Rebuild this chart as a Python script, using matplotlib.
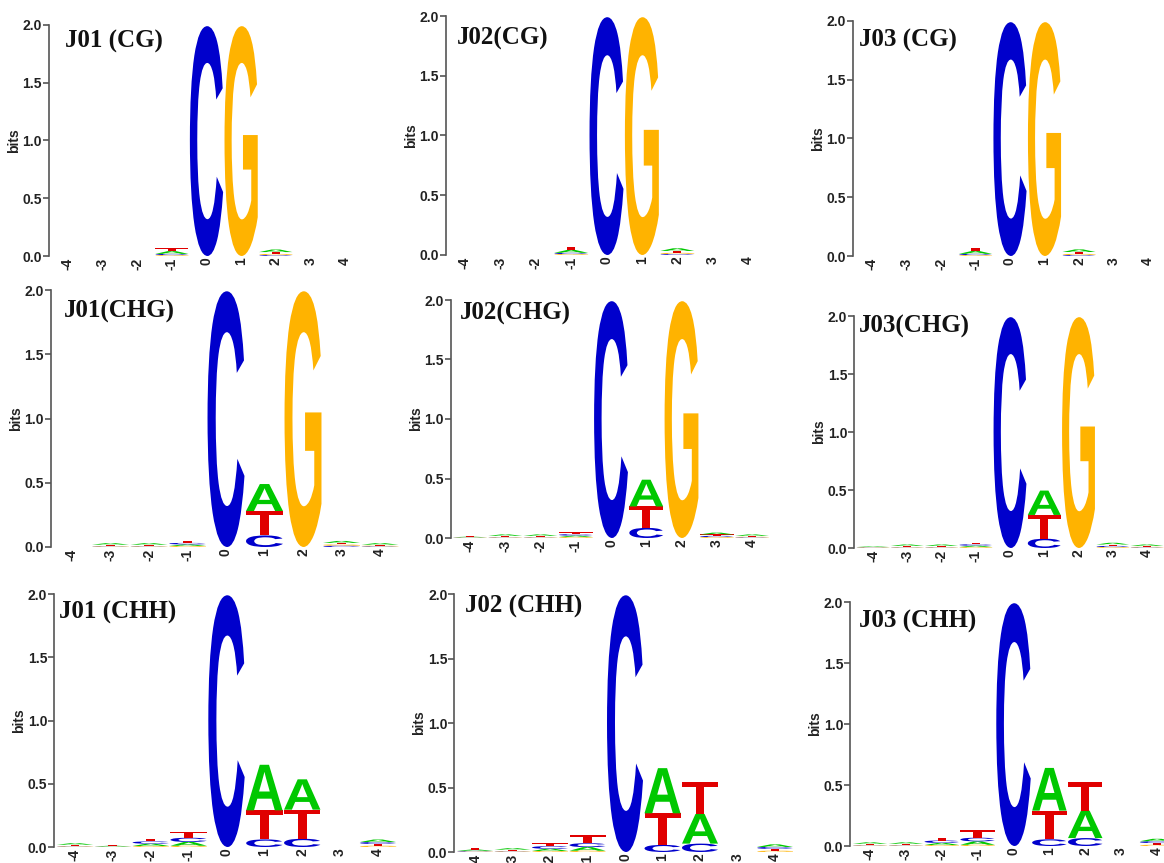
import matplotlib
matplotlib.use("Agg")
import matplotlib.pyplot as plt
from matplotlib.textpath import TextPath
from matplotlib.patches import PathPatch
from matplotlib.font_manager import FontProperties
from matplotlib.transforms import Affine2D

# ---------------- data ----------------
positions = [-4, -3, -2, -1, 0, 1, 2, 3, 4]
letters = ["A", "C", "G", "T"]
yticks = [0.0, 0.5, 1.0, 1.5, 2.0]
ytick_labels = ["0.0", "0.5", "1.0", "1.5", "2.0"]

# rows: A, C, G, T ; columns: positions -4..4 (bits)
J01_CG = [[0, 0, 0, 0.024, 0, 0, 0.022, 0, 0],
          [0, 0, 0, 0.010, 1.99, 0, 0.008, 0, 0],
          [0, 0, 0, 0.008, 0, 1.99, 0.010, 0, 0],
          [0, 0, 0, 0.027, 0, 0, 0.016, 0, 0]]
J02_CG = [[0, 0, 0, 0.024, 0, 0, 0.022, 0, 0],
          [0, 0, 0, 0.010, 1.99, 0, 0.008, 0, 0],
          [0, 0, 0, 0.008, 0, 1.99, 0.010, 0, 0],
          [0, 0, 0, 0.027, 0, 0, 0.016, 0, 0]]
J03_CG = [[0, 0, 0, 0.024, 0, 0, 0.022, 0, 0],
          [0, 0, 0, 0.010, 1.99, 0, 0.008, 0, 0],
          [0, 0, 0, 0.008, 0, 1.99, 0.010, 0, 0],
          [0, 0, 0, 0.027, 0, 0, 0.016, 0, 0]]
J01_CHG = [[0, 0.012, 0.012, 0.012, 0, 0.21, 0, 0.015, 0.012],
           [0, 0.004, 0.004, 0.012, 1.99, 0.09, 0, 0.010, 0.005],
           [0, 0.004, 0.004, 0.008, 0, 0, 1.99, 0.010, 0.005],
           [0, 0.010, 0.010, 0.015, 0, 0.19, 0, 0.012, 0.008]]
J02_CHG = [[0.005, 0.012, 0.012, 0.012, 0, 0.225, 0, 0.015, 0.012],
           [0.003, 0.004, 0.004, 0.012, 1.99, 0.085, 0, 0.010, 0.005],
           [0.003, 0.004, 0.004, 0.008, 0, 0, 1.99, 0.008, 0.005],
           [0.005, 0.010, 0.010, 0.015, 0, 0.18, 0, 0.012, 0.008]]
J03_CHG = [[0.006, 0.012, 0.012, 0.012, 0, 0.21, 0, 0.015, 0.012],
           [0.004, 0.004, 0.004, 0.012, 1.99, 0.08, 0, 0.010, 0.005],
           [0.004, 0.004, 0.004, 0.008, 0, 0, 1.99, 0.008, 0.005],
           [0.006, 0.010, 0.010, 0.015, 0, 0.205, 0, 0.012, 0.008]]
J01_CHH = [[0.012, 0.006, 0.018, 0.030, 0, 0.36, 0.24, 0, 0.020],
           [0.004, 0.002, 0.018, 0.033, 1.99, 0.06, 0.065, 0, 0.015],
           [0.004, 0.002, 0.008, 0.010, 0, 0, 0, 0, 0.010],
           [0.010, 0.006, 0.020, 0.045, 0, 0.23, 0.23, 0, 0.014]]
J02_CHH = [[0.010, 0.012, 0.017, 0.028, 0, 0.35, 0.23, 0, 0.020],
           [0.005, 0.004, 0.020, 0.030, 1.99, 0.055, 0.065, 0, 0.015],
           [0.004, 0.004, 0.008, 0.010, 0, 0, 0, 0, 0.010],
           [0.014, 0.010, 0.021, 0.060, 0, 0.245, 0.25, 0, 0.014]]
J03_CHH = [[0.012, 0.012, 0.017, 0.028, 0, 0.35, 0.225, 0, 0.020],
           [0.004, 0.004, 0.020, 0.030, 1.99, 0.055, 0.065, 0, 0.015],
           [0.004, 0.004, 0.008, 0.010, 0, 0, 0, 0, 0.010],
           [0.010, 0.010, 0.021, 0.060, 0, 0.235, 0.235, 0, 0.014]]

titles = ["J01 (CG)", "J02(CG)", "J03 (CG)",
          "J01(CHG)", "J02(CHG)", "J03(CHG)",
          "J01 (CHH)", "J02 (CHH)", "J03 (CHH)"]
matrices = [J01_CG, J02_CG, J03_CG, J01_CHG, J02_CHG, J03_CHG,
            J01_CHH, J02_CHH, J03_CHH]

colors = {"A": "#00C800", "C": "#0000CC", "G": "#FFB300", "T": "#E00000"}

# ---------------- layout (pixels) ----------------
W, H = 1164, 863
# (x of pos -4, x of pos 4, y of 2.0, y of 0.0)
panel_px = [(68, 345, 25, 256), (465, 748, 16, 255), (872, 1148, 21, 256),
            (72, 380, 290, 547), (470, 752, 300, 538), (873, 1147, 316, 548),
            (75, 378, 594, 847), (475, 775, 594, 852), (870, 1157, 602, 846)]
# title (left x, baseline y)
title_px = [(65, 48), (457, 45), (859, 47),
            (64, 318), (460, 320), (859, 333),
            (59, 619), (465, 613), (859, 628)]

fig = plt.figure(figsize=(W / 100, H / 100), dpi=100)
fig.patch.set_facecolor("white")

glyph_font = FontProperties(family="Liberation Sans", weight="bold")
glyph_cache = {}
for L in letters:
    glyph_cache[L] = TextPath((0, 0), L, size=1, prop=glyph_font)

XMIN, XMAX = -4.55, 4.5
LW = 0.96
TICK_FS = 10


def draw_letter(ax, letter, x, y0, h):
    if h <= 0:
        return
    p = glyph_cache[letter]
    bb = p.get_extents()
    tr = (Affine2D().translate(-bb.x0, -bb.y0)
          .scale(LW / bb.width, h / bb.height)
          .translate(x - LW / 2, y0))
    patch = PathPatch(tr.transform_path(p), facecolor=colors[letter],
                      edgecolor="none", lw=0, transform=ax.transData,
                      clip_on=False)
    ax.add_patch(patch)


for k, (mat, title) in enumerate(zip(matrices, titles)):
    x4m, x4p, y2, y0 = panel_px[k]
    s = (x4p - x4m) / 8.0
    left = x4m + (XMIN + 4) * s
    right = x4p + (XMAX - 4) * s
    ax = fig.add_axes([left / W, 1 - y0 / H, (right - left) / W, (y0 - y2) / H])
    ax.set_xlim(XMIN, XMAX)
    ax.set_ylim(0, 2)
    for j, pos in enumerate(positions):
        col = sorted([(mat[i][j], letters[i]) for i in range(4)])
        base = 0.0
        for h, L in col:
            draw_letter(ax, L, pos, base, h)
            base += h
    for sp in ["top", "right", "bottom"]:
        ax.spines[sp].set_visible(False)
    ax.spines["left"].set_color("#555555")
    ax.spines["left"].set_linewidth(1.2)
    ax.set_yticks(yticks)
    ax.set_yticklabels(ytick_labels, fontsize=TICK_FS, fontweight="bold",
                       family="Liberation Sans", color="#222222")
    ax.tick_params(axis="y", direction="out", length=4, width=1.2,
                   color="#555555", pad=1)
    ax.set_xticks(positions)
    ax.set_xticklabels([str(p) for p in positions], rotation=90,
                       fontsize=TICK_FS, fontweight="bold",
                       family="Liberation Sans", color="#222222")
    ax.tick_params(axis="x", length=0, pad=1)
    ax.set_ylabel("bits", fontsize=TICK_FS, fontweight="bold",
                  family="Liberation Sans", labelpad=1, color="#222222")
    ax.patch.set_alpha(0)
    tx, ty = title_px[k]
    fig.text(tx / W, 1 - ty / H, title, family="Liberation Serif",
             weight="bold", fontsize=18, color="#111111",
             ha="left", va="baseline")

fig.savefig("out.png", dpi=100, facecolor="white")
